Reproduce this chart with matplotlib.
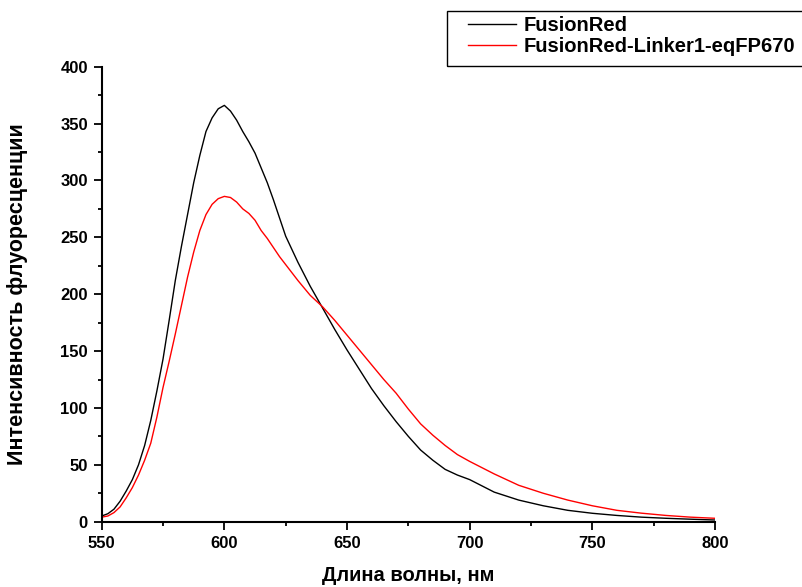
import numpy as np
import matplotlib
matplotlib.use("Agg")
from matplotlib import pyplot as plt
from matplotlib.ticker import MultipleLocator
from matplotlib.patches import Rectangle

plt.rcParams['font.family'] = ['Liberation Sans', 'DejaVu Sans']
plt.rcParams['font.weight'] = 'bold'

# wavelength grid (nm)
wavelength = [550, 552.5, 555, 557.5, 560, 562.5, 565, 567.5, 570, 572.5, 575, 577.5,
              580, 582.5, 585, 587.5, 590, 592.5, 595, 597.5, 600, 602.5, 605, 607.5,
              610, 612.5, 615, 617.5, 620, 622.5, 625, 630, 635, 640, 645, 650, 655,
              660, 665, 670, 675, 680, 685, 690, 695, 700, 710, 720, 730, 740, 750,
              760, 770, 780, 790, 800]

# FusionRed (black)
fusionred = [5, 7, 11, 18, 27, 37, 50, 67, 89, 115, 143, 177,
             212, 242, 270, 298, 322, 343, 355, 363, 366, 361, 353, 343,
             334, 324, 311, 298, 283, 267, 251, 228, 207, 188, 169, 151, 134,
             117, 102, 88, 75, 63, 54, 46, 41, 37, 26, 19, 14, 10, 7.4,
             5.5, 4, 3, 2.2, 1.5]

# FusionRed-Linker1-eqFP670 (red)
fusion_linker = [4, 5, 8, 13, 21, 30, 41, 54, 69, 92, 118, 141,
                 165, 190, 215, 237, 256, 270, 279, 284, 286, 285, 281, 275,
                 271, 265, 256, 249, 241, 233, 226, 212, 199, 189, 177, 164, 151,
                 138, 125, 113, 99, 86, 76, 67, 59, 53, 42, 32, 25, 19, 14,
                 10, 7.5, 5.5, 4, 3]

labels = ["FusionRed", "FusionRed-Linker1-eqFP670"]

W, H = 803, 587
fig = plt.figure(figsize=(W / 100, H / 100), dpi=100)
ax = fig.add_axes([101.7 / W, 1 - 521.7 / H, (715 - 101.7) / W, (521.7 - 66.7) / H])

ax.plot(wavelength, fusionred, color="black", lw=1.0, label=labels[0])
ax.plot(wavelength, fusion_linker, color="red", lw=1.0, label=labels[1])

ax.set_xlim(550, 800)
ax.set_ylim(0, 400)
ax.xaxis.set_major_locator(MultipleLocator(50))
ax.xaxis.set_minor_locator(MultipleLocator(25))
ax.yaxis.set_major_locator(MultipleLocator(50))
ax.yaxis.set_minor_locator(MultipleLocator(25))

for side in ["top", "right"]:
    ax.spines[side].set_visible(False)
for side in ["left", "bottom"]:
    ax.spines[side].set_linewidth(1.5)

ax.tick_params(which="major", direction="out", length=6, width=1.3, labelsize=12, pad=4)
ax.tick_params(which="minor", direction="out", length=3, width=1.3)
for lab in ax.get_xticklabels() + ax.get_yticklabels():
    lab.set_fontweight("bold")

ax.set_xlabel("Длина волны, нм", fontsize=14.5, fontweight="bold")
ax.set_ylabel("Интенсивность флуоресценции", fontsize=15.5, fontweight="bold")
ax.xaxis.set_label_coords(0.5, -0.097)
ax.yaxis.set_label_coords(-0.1197, 0.5)

# legend: frameless entries plus a plain box like the original
leg = fig.legend(loc="upper left", bbox_to_anchor=(468 / W, 1 - 16 / H),
                 prop={"weight": "bold", "size": 14.5}, frameon=False,
                 handlelength=2.4, borderpad=0, labelspacing=0.1,
                 handletextpad=0.35, borderaxespad=0)
fig.add_artist(Rectangle((447 / W, 1 - 66 / H), (810 - 447) / W, (66 - 11) / H,
                         transform=fig.transFigure, fill=False, edgecolor="black",
                         lw=1.0, clip_on=False))

fig.savefig("out.png", dpi=100)
